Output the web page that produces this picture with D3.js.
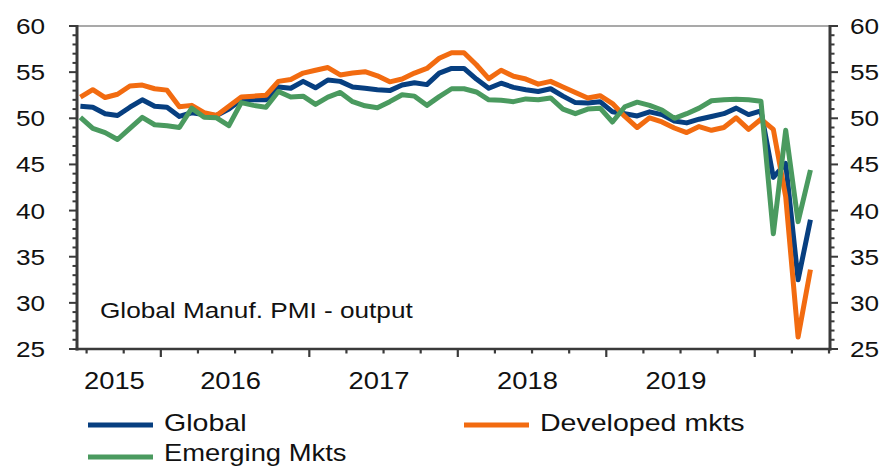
<!DOCTYPE html>
<html>
<head>
<meta charset="utf-8">
<script src="https://cdn.jsdelivr.net/npm/d3@7"></script>
<style>
  html, body { margin: 0; padding: 0; background: #fff; }
  svg { display: block; }
  text { font-family: "Liberation Sans", Arial, sans-serif; fill: #111; }
</style>
</head>
<body>
<svg id="chart" width="885" height="467"></svg>
<script>
// ---- data ----
const categories = [
  "2015-06","2015-07","2015-08","2015-09","2015-10","2015-11","2015-12",
  "2016-01","2016-02","2016-03","2016-04","2016-05","2016-06","2016-07","2016-08","2016-09","2016-10","2016-11","2016-12",
  "2017-01","2017-02","2017-03","2017-04","2017-05","2017-06","2017-07","2017-08","2017-09","2017-10","2017-11","2017-12",
  "2018-01","2018-02","2018-03","2018-04","2018-05","2018-06","2018-07","2018-08","2018-09","2018-10","2018-11","2018-12",
  "2019-01","2019-02","2019-03","2019-04","2019-05","2019-06","2019-07","2019-08","2019-09","2019-10","2019-11","2019-12",
  "2020-01","2020-02","2020-03","2020-04","2020-05"
];
const globalPMI = [
  51.3,51.2,50.5,50.3,51.2,52.0,51.3,
  51.2,50.2,50.6,50.4,50.3,51.0,52.0,52.0,52.0,53.4,53.25,54.0,
  53.3,54.15,54.0,53.4,53.25,53.1,53.0,53.6,53.85,53.65,54.9,55.4,
  55.4,54.25,53.25,53.8,53.35,53.1,52.9,53.2,52.4,51.7,51.65,51.8,
  50.7,50.5,50.25,50.7,50.4,49.7,49.5,49.9,50.2,50.5,51.1,50.4,
  50.8,43.6,45.1,32.5,39.0
];
const developedPMI = [
  52.3,53.1,52.25,52.6,53.5,53.6,53.2,
  53.05,51.25,51.4,50.6,50.3,51.3,52.3,52.4,52.5,54.0,54.2,54.9,
  55.2,55.5,54.7,54.9,55.05,54.6,53.95,54.25,54.9,55.4,56.5,57.1,
  57.1,55.8,54.3,55.2,54.55,54.25,53.7,54.0,53.4,52.8,52.2,52.45,
  51.6,50.2,49.0,50.05,49.6,48.95,48.45,49.1,48.7,49.0,50.05,48.8,
  49.9,48.8,41.5,26.3,33.6
];
const emergingPMI = [
  50.1,48.9,48.45,47.7,48.9,50.1,49.3,
  49.2,49.0,51.1,50.1,50.05,49.2,51.7,51.4,51.2,52.9,52.3,52.4,
  51.5,52.3,52.8,51.8,51.35,51.15,51.8,52.55,52.4,51.4,52.35,53.2,
  53.2,52.85,52.0,51.95,51.8,52.1,52.0,52.2,51.0,50.5,51.0,51.1,
  49.6,51.25,51.75,51.4,50.9,50.0,50.5,51.1,51.9,52.0,52.05,52.0,
  51.85,37.5,48.7,38.8,44.4
];
const seriesNames = ["Global", "Developed mkts", "Emerging Mkts"];
const seriesColors = ["#073f80", "#f26b10", "#4a9a5f"];
const yearLabels = ["2015", "2016", "2017", "2018", "2019"];
const yTicks = [25, 30, 35, 40, 45, 50, 55, 60];
const annotation = "Global Manuf. PMI - output";

// ---- layout ----
const svg = d3.select("#chart");
const L = 77, R = 830, T = 26, B = 349;
const SX = 1.19; // horizontal text stretch of the reference
const axisColor = "#3a3a3a";

const monthIndex = c => { const [y, m] = c.split("-").map(Number); return (y - 2015) * 12 + (m - 1); };
const x = d3.scaleLinear().domain([4.725, 65.58]).range([L, R]);
const y = d3.scaleLinear().domain([25, 60]).range([B, T]);

svg.append("rect").attr("width", 885).attr("height", 467).attr("fill", "#fff");

function stext(px, py, str, size, anchor) {
  const g = svg.append("g").attr("transform", `translate(${px},${py}) scale(${SX},1)`);
  g.append("text").attr("x", 0).attr("y", 0)
    .attr("font-size", size).attr("text-anchor", anchor || "start").text(str);
  return g;
}

// top border
svg.append("line").attr("x1", L).attr("x2", R).attr("y1", T).attr("y2", T)
  .attr("stroke", "#555").attr("stroke-width", 1.2);

// y axes with minor ticks
const minorY = d3.range(25, 61, 1);
[["left", L, -1], ["right", R, 1]].forEach(([side, ax, dir]) => {
  svg.append("line").attr("x1", ax).attr("x2", ax).attr("y1", T - 1).attr("y2", B + 1.5)
    .attr("stroke", axisColor).attr("stroke-width", 3);
  minorY.forEach(v => {
    const major = v % 5 === 0;
    svg.append("line")
      .attr("x1", ax).attr("x2", ax + dir * (major ? 8 : 4.5))
      .attr("y1", y(v)).attr("y2", y(v))
      .attr("stroke", axisColor).attr("stroke-width", 2);
  });
  yTicks.forEach(v => {
    if (side === "left") stext(45, y(v) + 8, String(v), 22, "end");
    else stext(850, y(v) + 8, String(v), 22, "start");
  });
});

// x axis
svg.append("line").attr("x1", L - 1.5).attr("x2", R + 1.5).attr("y1", B).attr("y2", B)
  .attr("stroke", axisColor).attr("stroke-width", 2.6);
const qTicks = d3.range(5.5, 65.6, 3);
qTicks.forEach(t => {
  const major = (t + 0.5) % 12 === 0;
  svg.append("line").attr("x1", x(t)).attr("x2", x(t))
    .attr("y1", B).attr("y2", B + (major ? 8 : 4.5))
    .attr("stroke", axisColor).attr("stroke-width", 2.2);
});
yearLabels.forEach((yl, k) => {
  const start = Math.max(x.domain()[0], k * 12 - 0.5);
  const end = k * 12 + 11.5;
  const cx = (x(start) + x(end)) / 2 - 4.5;
  stext(cx, 389, yl, 23, "middle");
});

// annotation
stext(100, 318, annotation, 22, "start");

// lines
const seriesData = [globalPMI, developedPMI, emergingPMI];
const line = d3.line()
  .x((d, i) => x(monthIndex(categories[i])))
  .y(d => y(d));
seriesData.forEach((vals, s) => {
  svg.append("path").datum(vals)
    .attr("d", line)
    .attr("fill", "none")
    .attr("stroke", seriesColors[s])
    .attr("stroke-width", 5)
    .attr("stroke-linejoin", "round");
});

// legend
const legendPos = [[88, 425], [464, 425], [88, 457]];
const legendSize = [24, 24, 23];
seriesNames.forEach((n, s) => {
  const [lx, ly] = legendPos[s];
  svg.append("line").attr("x1", lx).attr("x2", lx + 65).attr("y1", ly).attr("y2", ly)
    .attr("stroke", seriesColors[s]).attr("stroke-width", 5);
  stext(lx + 76, ly + (s === 2 ? 4 : 6), n, legendSize[s], "start");
});
</script>
</body>
</html>
